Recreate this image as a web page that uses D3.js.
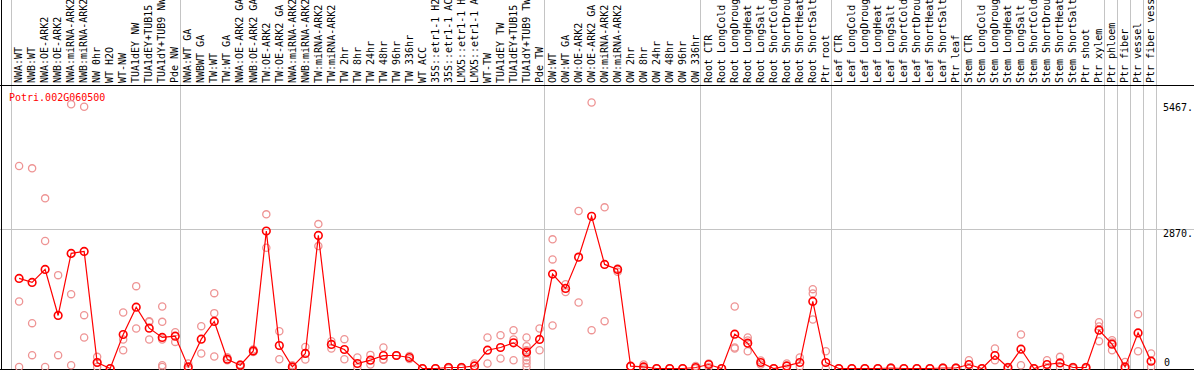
<!DOCTYPE html>
<html>
<head>
<meta charset="UTF-8">
<title>Potri.002G060500</title>
<style>
    body { margin: 0; background: #fff; }
    svg { display: block; }
    text { font-family: "DejaVu Sans Mono", monospace; font-size: 10px; }
</style>
</head>
<body>
<svg width="1194" height="370"></svg>
<script src="https://d3js.org/d3.v7.min.js"></script>
<script>
// column labels, left to right
const labels = [
    "NWA:WT", "NWB:WT", "NWA:OE-ARK2", "NWB:OE-ARK2", "NWA:miRNA-ARK2", "NWB:miRNA-ARK2",
    "NW 0hr", "WT H2O", "WT-NW", "TUA1dEY NW", "TUA1dEY+TUB15", "TUA1dY+TUB9 NW", "Pde NW",
    "NWA:WT GA", "NWBWT GA", "TW:WT", "TW:WT GA", "NWA:OE-ARK2 GA", "NWB:OE-ARK2 GA",
    "TW:OE-ARK2", "TW:OE-ARK2 GA", "NWA:miRNA-ARK2", "NWB:miRNA-ARK2", "TW:miRNA-ARK2",
    "TW:miRNA-ARK2", "TW 2hr", "TW 8hr", "TW 24hr", "TW 48hr", "TW 96hr", "TW 336hr",
    "WT ACC", "35S::etr1-1 H2O", "35S::etr1-1 ACC", "LMX5::etr1-1 H2O", "LMX5::etr1-1 ACC",
    "WT-TW", "TUA1dEY TW", "TUA1dEY+TUB15 TW", "TUA1dY+TUB9 TW", "Pde TW",
    "OW:WT", "OW:WT GA", "OW:OE-ARK2", "OW:OE-ARK2 GA", "OW:miRNA-ARK2", "OW:miRNA-ARK2",
    "OW 2hr", "OW 8hr", "OW 24hr", "OW 48hr", "OW 96hr", "OW 336hr",
    "Root CTR", "Root LongCold", "Root LongDrought", "Root LongHeat", "Root LongSalt",
    "Root ShortCold", "Root ShortDrought", "Root ShortHeat", "Root ShortSalt", "Ptr root",
    "Leaf CTR", "Leaf LongCold", "Leaf LongDrought", "Leaf LongHeat", "Leaf LongSalt",
    "Leaf ShortCold", "Leaf ShortDrought", "Leaf ShortHeat", "Leaf ShortSalt", "Ptr leaf",
    "Stem CTR", "Stem LongCold", "Stem LongDrought", "Stem LongHeat", "Stem LongSalt",
    "Stem ShortCold", "Stem ShortDrought", "Stem ShortHeat", "Stem ShortSalt", "Ptr shoot",
    "Ptr xylem", "Ptr phloem", "Ptr fiber", "Ptr vessel", "Ptr fiber vessel"
];

// mean expression per column
const means = [
    1851, 1769, 2036, 1090, 2366, 2407, 123, 0, 699, 1261,
    829, 638, 664, 33, 603, 967, 191, 68, 362, 2824,
    473, 33, 309, 2736, 494, 391, 103, 171, 267, 267,
    226, 0, 0, 21, 21, 53, 376, 432, 527, 335,
    597, 1940, 1646, 2289, 3127, 2139, 2036, 47, 33, 0,
    0, 0, 21, 82, 0, 706, 520, 123, 0, 53,
    123, 1378, 123, 0, 0, 0, 0, 10, 0, 0,
    0, 10, 10, 82, 0, 267, 21, 397, 0, 82,
    115, 21, 21, 788, 500, 33, 732, 150
];

// replicate values per column
const reps = [
    [4161, 1378, 33], [4114, 932, 274], [3497, 2619, 33], [1919, 274], [5430, 1528, 68],
    [5380, 1096, 638], [239, 123, 33], [0, 0], [1152, 597, 376], [1693, 823],
    [973, 959, 597], [1275, 959, 597, 68, 33], [747, 547], [103, 0], [870, 309],
    [1549, 1138, 247], [232, 171], [82, 33], [391, 341], [3168, 2481],
    [767, 191], [68, 0], [444, 185], [2968, 2516], [562, 411],
    [603, 191], [226, 21], [280, 82], [432, 185, 185], [267, 267],
    [259, 197], [0, 0], [0, 0], [33, 0], [33, 0],
    [103, 0], [638, 103], [685, 206], [788, 597, 171], [638, 459, 376, 315, 232, 171, 109, 33],
    [823, 376], [2654, 2242, 885], [1734, 1570], [3236, 1358], [5467, 788],
    [3312, 973], [2057, 1987], [47, 47], [82, 0], [0, 0],
    [0, 0], [0, 0], [53, 0], [103, 33], [0, 0],
    [1275, 432, 411], [638, 576, 356], [165, 82], [0, 0], [103, 0],
    [226, 41], [1631, 1543, 1008], [356, 0], [0, 0], [0, 0],
    [0, 0], [0, 0], [21, 0], [0, 0], [0, 0],
    [0, 0], [21, 0], [21, 0], [171, 0], [0, 0],
    [411, 171], [33, 0], [699, 68], [0, 0], [171, 0],
    [239, 21], [33, 0], [33, 0], [952, 864, 562], [582, 535, 376],
    [136, 0], [1117, 356], [309, 33]
];

// columns that start a new group (vertical separators)
const groupStarts = [0, 13, 41, 53, 63, 73, 84, 85, 86, 87, 88];
const yTicks = [0, 2870, 5467];
const geneName = "Potri.002G060500";

const width = 1194, height = 370;
const svg = d3.select("svg");

const x = d3.scaleBand()
    .domain(d3.range(labels.length))
    .range([10.8, 1155.8]);
const y = d3.scaleLinear()
    .domain([0, 5467])
    .range([368.5, 102.5]);
const px = i => x(i) + 8.3;
const edge = i => Math.round(x.range()[0] + i * x.step()) + 0.5;

// grid
svg.append("g")
    .selectAll("line")
    .data(groupStarts)
    .join("line")
    .attr("x1", edge).attr("x2", edge)
    .attr("y1", 0).attr("y2", height)
    .attr("stroke", "#c4c4c4")
    .attr("shape-rendering", "crispEdges");

svg.append("line")
    .attr("x1", 0).attr("x2", width)
    .attr("y1", Math.round(y(2870)) + 0.5).attr("y2", Math.round(y(2870)) + 0.5)
    .attr("stroke", "#c4c4c4")
    .attr("shape-rendering", "crispEdges");

// frame lines
svg.append("line")
    .attr("x1", 0).attr("x2", width).attr("y1", 85.5).attr("y2", 85.5)
    .attr("stroke", "#000").attr("shape-rendering", "crispEdges");
svg.append("line")
    .attr("x1", 1.5).attr("x2", 1.5).attr("y1", 0).attr("y2", height)
    .attr("stroke", "#000").attr("shape-rendering", "crispEdges");
svg.append("line")
    .attr("x1", 0).attr("x2", width).attr("y1", 369.5).attr("y2", 369.5)
    .attr("stroke", "#000").attr("shape-rendering", "crispEdges");

// column labels
svg.append("g")
    .selectAll("text")
    .data(labels)
    .join("text")
    .attr("transform", (d, i) => `translate(${x(i) + 11.5},83) rotate(-90)`)
    .attr("fill", "#000")
    .text(d => d);

// value labels at the right
svg.append("g")
    .selectAll("text")
    .data(yTicks)
    .join("text")
    .attr("x", d => d === 0 ? 1164 : 1163)
    .attr("y", d => d === 0 ? 366 : y(d) + 8)
    .attr("fill", "#000")
    .text(d => d === 0 ? "0" : d + ".");

svg.append("text")
    .attr("x", 9)
    .attr("y", 101)
    .attr("fill", "#ff0000")
    .text(geneName);

// replicates
const repPoints = [];
reps.forEach((r, i) => r.forEach(v => repPoints.push({ i, v })));
svg.append("g")
    .selectAll("circle")
    .data(repPoints)
    .join("circle")
    .attr("cx", d => px(d.i))
    .attr("cy", d => y(d.v))
    .attr("r", 3.6)
    .attr("fill", "none")
    .attr("stroke", "#ee9494")
    .attr("stroke-width", 1.3);

// mean line
const line = d3.line()
    .x((d, i) => px(i))
    .y(d => y(d));
svg.append("path")
    .datum(means)
    .attr("d", line)
    .attr("fill", "none")
    .attr("stroke", "#ff0000")
    .attr("stroke-width", 1.2);

svg.append("g")
    .selectAll("circle")
    .data(means)
    .join("circle")
    .attr("cx", (d, i) => px(i))
    .attr("cy", d => y(d))
    .attr("r", 3.8)
    .attr("fill", "none")
    .attr("stroke", "#ff0000")
    .attr("stroke-width", 1.6);
</script>
</body>
</html>
